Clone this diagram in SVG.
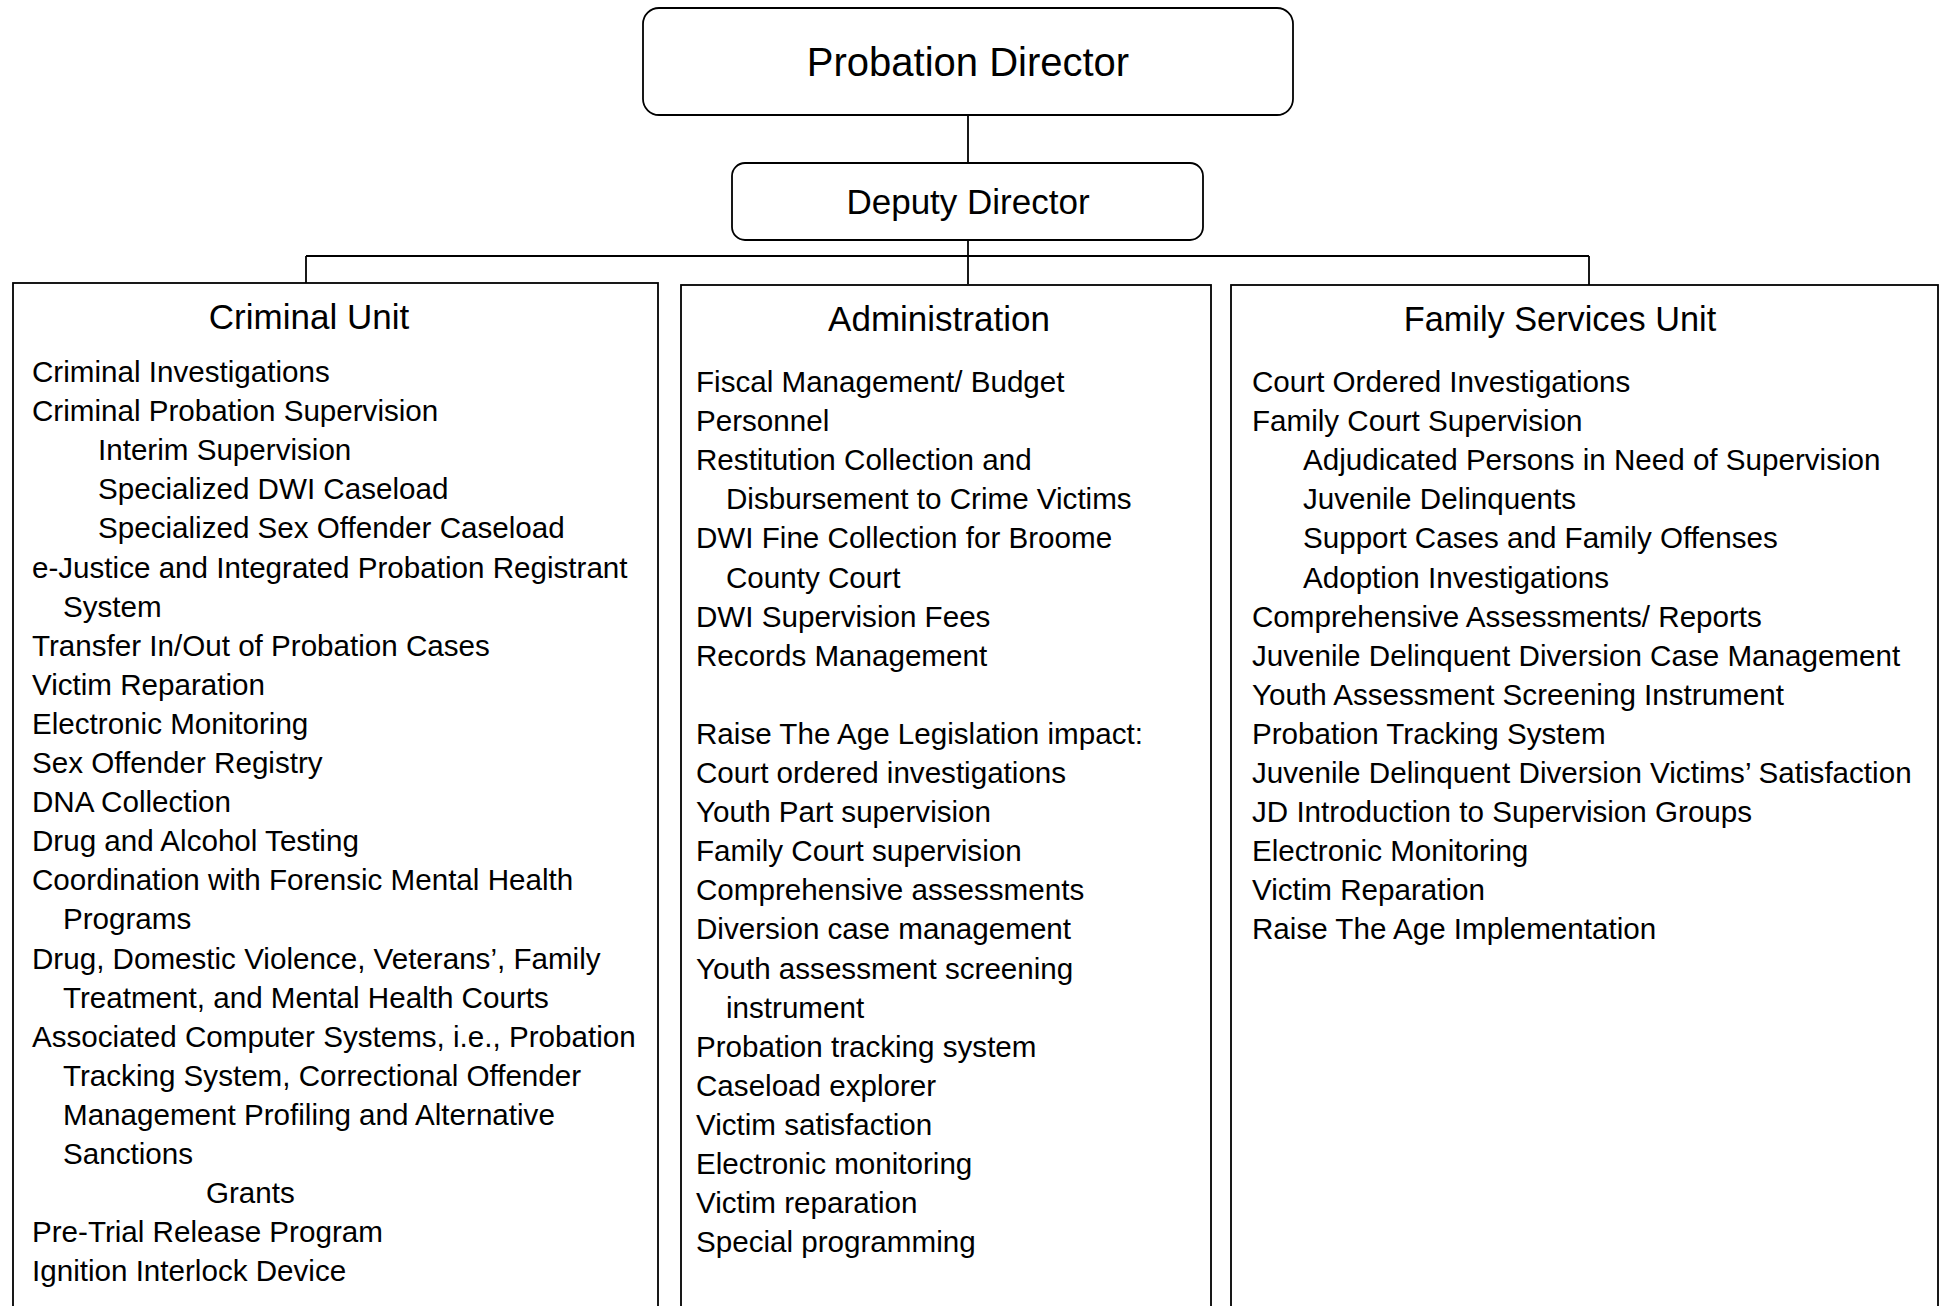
<svg xmlns="http://www.w3.org/2000/svg" width="1946" height="1306" viewBox="0 0 1946 1306">
<style>
.box{fill:#fff;stroke:#000;stroke-width:1.8}
.ln{fill:none;stroke:#000;stroke-width:1.8}
.t{font-family:"Liberation Sans",Arial,sans-serif;fill:#000}
.title{font-size:40px;text-anchor:middle}
.sub{font-size:35px;text-anchor:middle}
.hd{font-size:35px;text-anchor:middle}
.hd2{font-size:34.3px;text-anchor:middle}
.body{font-size:29.6px}
</style>
<rect width="1946" height="1306" fill="#fff"/>
<g id="connectors">
<line class="ln" x1="968" y1="115" x2="968" y2="163"/>
<line class="ln" x1="968" y1="240" x2="968" y2="284"/>
<line class="ln" x1="306" y1="256" x2="1589" y2="256"/>
<line class="ln" x1="306" y1="256" x2="306" y2="283"/>
<line class="ln" x1="1589" y1="256" x2="1589" y2="285"/>
</g>
<g id="probation-director">
<rect class="box" x="643" y="8" width="650" height="107" rx="16"/>
<text class="t title" x="968" y="76">Probation Director</text>
</g>
<g id="deputy-director">
<rect class="box" x="732" y="163" width="471" height="77" rx="13"/>
<text class="t sub" x="968" y="214">Deputy Director</text>
</g>
<g id="criminal-unit">
<rect class="box" x="13" y="283" width="645" height="1040"/>
<text class="t hd" x="309" y="329">Criminal Unit</text>
<text class="t body">
<tspan x="32" y="382">Criminal Investigations</tspan>
<tspan x="32" y="421.1">Criminal Probation Supervision</tspan>
<tspan x="98" y="460.2">Interim Supervision</tspan>
<tspan x="98" y="499.3">Specialized DWI Caseload</tspan>
<tspan x="98" y="538.4">Specialized Sex Offender Caseload</tspan>
<tspan x="32" y="577.5">e-Justice and Integrated Probation Registrant</tspan>
<tspan x="63" y="616.6">System</tspan>
<tspan x="32" y="655.7">Transfer In/Out of Probation Cases</tspan>
<tspan x="32" y="694.8">Victim Reparation</tspan>
<tspan x="32" y="733.9">Electronic Monitoring</tspan>
<tspan x="32" y="773">Sex Offender Registry</tspan>
<tspan x="32" y="812.1">DNA Collection</tspan>
<tspan x="32" y="851.2">Drug and Alcohol Testing</tspan>
<tspan x="32" y="890.3">Coordination with Forensic Mental Health</tspan>
<tspan x="63" y="929.4">Programs</tspan>
<tspan x="32" y="968.5">Drug, Domestic Violence, Veterans’, Family</tspan>
<tspan x="63" y="1007.6">Treatment, and Mental Health Courts</tspan>
<tspan x="32" y="1046.7">Associated Computer Systems, i.e., Probation</tspan>
<tspan x="63" y="1085.8">Tracking System, Correctional Offender</tspan>
<tspan x="63" y="1124.9">Management Profiling and Alternative</tspan>
<tspan x="63" y="1164">Sanctions</tspan>
<tspan x="206" y="1203.1">Grants</tspan>
<tspan x="32" y="1242.2">Pre-Trial Release Program</tspan>
<tspan x="32" y="1281.3">Ignition Interlock Device</tspan>
</text>
</g>
<g id="administration">
<rect class="box" x="681" y="285" width="530" height="1040"/>
<text class="t hd" x="939" y="331">Administration</text>
<text class="t body">
<tspan x="696" y="392">Fiscal Management/ Budget</tspan>
<tspan x="696" y="431.1">Personnel</tspan>
<tspan x="696" y="470.2">Restitution Collection and</tspan>
<tspan x="726" y="509.3">Disbursement to Crime Victims</tspan>
<tspan x="696" y="548.4">DWI Fine Collection for Broome</tspan>
<tspan x="726" y="587.5">County Court</tspan>
<tspan x="696" y="626.6">DWI Supervision Fees</tspan>
<tspan x="696" y="665.7">Records Management</tspan>
<tspan x="696" y="743.9">Raise The Age Legislation impact:</tspan>
<tspan x="696" y="783">Court ordered investigations</tspan>
<tspan x="696" y="822.1">Youth Part supervision</tspan>
<tspan x="696" y="861.2">Family Court supervision</tspan>
<tspan x="696" y="900.3">Comprehensive assessments</tspan>
<tspan x="696" y="939.4">Diversion case management</tspan>
<tspan x="696" y="978.5">Youth assessment screening</tspan>
<tspan x="726" y="1017.6">instrument</tspan>
<tspan x="696" y="1056.7">Probation tracking system</tspan>
<tspan x="696" y="1095.8">Caseload explorer</tspan>
<tspan x="696" y="1134.9">Victim satisfaction</tspan>
<tspan x="696" y="1174">Electronic monitoring</tspan>
<tspan x="696" y="1213.1">Victim reparation</tspan>
<tspan x="696" y="1252.2">Special programming</tspan>
</text>
</g>
<g id="family-services-unit">
<rect class="box" x="1231" y="285" width="707" height="1040"/>
<text class="t hd2" x="1560" y="331">Family Services Unit</text>
<text class="t body">
<tspan x="1252" y="392">Court Ordered Investigations</tspan>
<tspan x="1252" y="431.1">Family Court Supervision</tspan>
<tspan x="1303" y="470.2">Adjudicated Persons in Need of Supervision</tspan>
<tspan x="1303" y="509.3">Juvenile Delinquents</tspan>
<tspan x="1303" y="548.4">Support Cases and Family Offenses</tspan>
<tspan x="1303" y="587.5">Adoption Investigations</tspan>
<tspan x="1252" y="626.6">Comprehensive Assessments/ Reports</tspan>
<tspan x="1252" y="665.7">Juvenile Delinquent Diversion Case Management</tspan>
<tspan x="1252" y="704.8">Youth Assessment Screening Instrument</tspan>
<tspan x="1252" y="743.9">Probation Tracking System</tspan>
<tspan x="1252" y="783">Juvenile Delinquent Diversion Victims’ Satisfaction</tspan>
<tspan x="1252" y="822.1">JD Introduction to Supervision Groups</tspan>
<tspan x="1252" y="861.2">Electronic Monitoring</tspan>
<tspan x="1252" y="900.3">Victim Reparation</tspan>
<tspan x="1252" y="939.4">Raise The Age Implementation</tspan>
</text>
</g>
</svg>
